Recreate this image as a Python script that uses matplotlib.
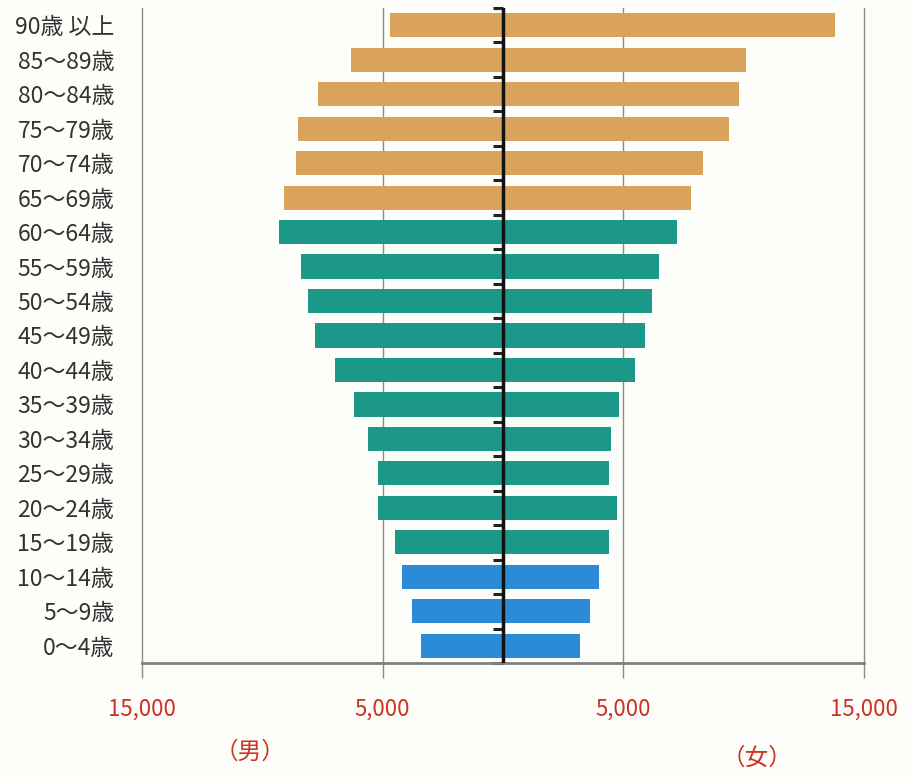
import numpy as np
import matplotlib
matplotlib.use("Agg")
from matplotlib import pyplot as plt

plt.rcParams["font.family"] = ["Noto Sans CJK JP", "DejaVu Sans"]

# age groups, youngest first
ages = ["0～4歳", "5～9歳", "10～14歳", "15～19歳", "20～24歳", "25～29歳",
        "30～34歳", "35～39歳", "40～44歳", "45～49歳", "50～54歳", "55～59歳",
        "60～64歳", "65～69歳", "70～74歳", "75～79歳", "80～84歳", "85～89歳",
        "90歳 以上"]
male = [3400, 3800, 4200, 4500, 5200, 5200, 5600, 6200, 7000, 7800, 8100, 8400,
        9300, 9100, 8600, 8500, 7700, 6300, 4700]
female = [3200, 3600, 4000, 4400, 4750, 4400, 4500, 4800, 5500, 5900, 6200, 6500,
          7250, 7800, 8300, 9400, 9800, 10100, 13800]
groups = ["young"] * 3 + ["work"] * 10 + ["old"] * 6

group_colors = {"young": "#2b8bd6", "work": "#1b9888", "old": "#d9a35e"}
bg = "#fdfdf9"
red = "#cc3325"

fig = plt.figure(figsize=(9.09, 7.79), dpi=100, facecolor=bg)
ax = fig.add_axes([142 / 909, 116 / 779, 722 / 909, 655 / 779], facecolor=bg)

y = np.arange(len(ages))
colors = [group_colors[g] for g in groups]
ax.barh(y, -np.array(male), height=0.7, color=colors, zorder=2)
ax.barh(y, female, height=0.7, color=colors, zorder=2)

ax.set_xlim(-15000, 15000)
ax.set_ylim(-0.5, 18.5)

# light gridlines
for gx in [-5000, 5000, 15000]:
    ax.axvline(gx, color="#8a8a8a", lw=1.0, zorder=1, clip_on=False)
ax.axvline(0, color="#111111", lw=2.5, zorder=3)

ax.set_xticks([-15000, -5000, 5000, 15000])
ax.set_xticklabels(["15,000", "5,000", "5,000", "15,000"], color=red, fontsize=16)
ax.tick_params(axis="x", direction="out", length=11, width=1, color="#8a8a8a", pad=14)

ax.set_yticks(y)
ax.set_yticklabels(ages, fontsize=16.5, color="#333333")
ax.tick_params(axis="y", length=0, pad=20)

for side in ["top", "right"]:
    ax.spines[side].set_visible(False)
ax.spines["left"].set_color("#8a8a8a")
ax.spines["left"].set_linewidth(1.0)
ax.spines["bottom"].set_color("#808080")
ax.spines["bottom"].set_linewidth(2.0)

# short ticks on the centre axis between age groups
center = ax.secondary_yaxis(0.5)
center.spines["left"].set_visible(False)
center.spines["right"].set_visible(False)
center.set_yticks(np.arange(-0.5, 19, 1.0))
center.yaxis.set_ticks_position("left")
center.set_yticklabels([])
center.tick_params(direction="out", length=7, width=2.2, color="#222222")

fig.text(250 / 909, 1 - 752 / 779, "（男）", color=red, fontsize=17,
         ha="center", va="center")
fig.text(757 / 909, 1 - 758 / 779, "（女）", color=red, fontsize=17,
         ha="center", va="center")

fig.savefig("out.png", dpi=100, facecolor=bg)
